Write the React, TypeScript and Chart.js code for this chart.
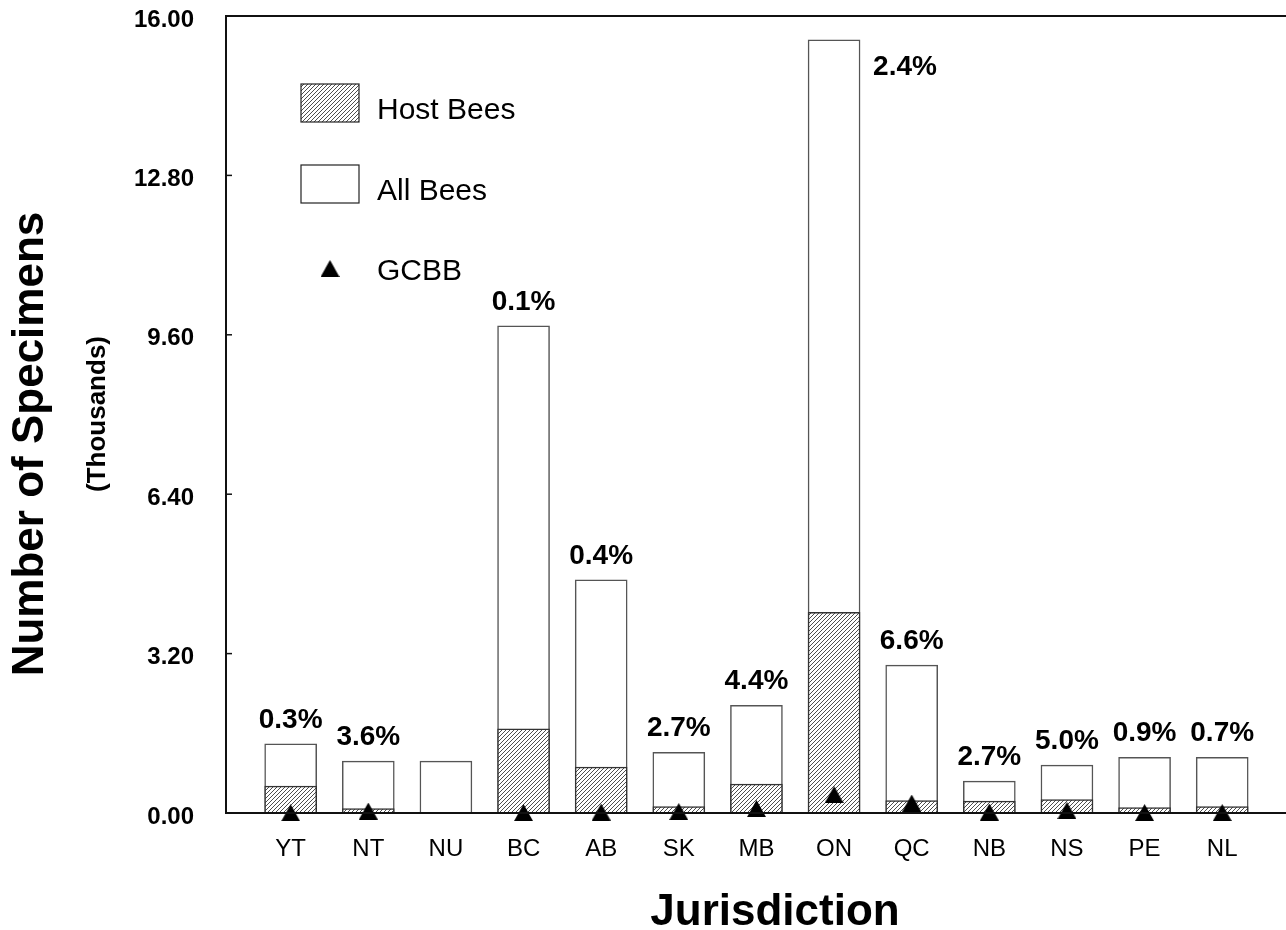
import React, { useEffect, useRef } from 'react';
import { Chart, registerables } from 'chart.js';

Chart.register(...registerables);

const categories = ['YT', 'NT', 'NU', 'BC', 'AB', 'SK', 'MB', 'ON', 'QC', 'NB', 'NS', 'PE', 'NL'];
const allBees = [1.39, 1.04, 1.04, 9.78, 4.68, 1.22, 2.16, 15.52, 2.97, 0.64, 0.96, 1.12, 1.12];
const hostBees = [0.54, 0.09, null, 1.69, 0.92, 0.13, 0.58, 4.03, 0.25, 0.24, 0.27, 0.11, 0.13];
const gcbb = [0.005, 0.04, null, 0.01, 0.02, 0.03, 0.09, 0.37, 0.2, 0.02, 0.05, 0.01, 0.01];
const pctLabels = ['0.3%', '3.6%', '', '0.1%', '0.4%', '2.7%', '4.4%', '2.4%', '6.6%', '2.7%', '5.0%', '0.9%', '0.7%'];
const yTicks = [0, 3.2, 6.4, 9.6, 12.8, 16];
const legendLabels = ['Host Bees', 'All Bees', 'GCBB'];
const yTitle = 'Number of Specimens';
const ySubTitle = '(Thousands)';
const xTitle = 'Jurisdiction';

const FONT = "'Liberation Sans', Arial, sans-serif";

function makeHatch(): CanvasPattern | string {
  const c = document.createElement('canvas');
  c.width = 4;
  c.height = 4;
  const g = c.getContext('2d');
  if (!g) return '#999';
  g.fillStyle = '#ffffff';
  g.fillRect(0, 0, 4, 4);
  g.strokeStyle = '#3a3a3a';
  g.lineWidth = 0.9;
  g.beginPath();
  g.moveTo(-1, 5);
  g.lineTo(5, -1);
  g.moveTo(-3, 3);
  g.lineTo(3, -3);
  g.moveTo(1, 7);
  g.lineTo(7, 1);
  g.stroke();
  const p = g.createPattern(c, 'repeat');
  return p || '#999';
}

function makeTriangle(): HTMLCanvasElement {
  const c = document.createElement('canvas');
  c.width = 19;
  c.height = 17;
  const g = c.getContext('2d');
  if (g) {
    g.fillStyle = '#000';
    g.beginPath();
    g.moveTo(9.5, 0);
    g.lineTo(19, 17);
    g.lineTo(0, 17);
    g.closePath();
    g.fill();
  }
  return c;
}

const zeroPad = (s: any) => {
  s.paddingTop = 0;
  s.paddingBottom = 0;
  s.paddingLeft = 0;
  s.paddingRight = 0;
};

export default function App() {
  const ref = useRef<HTMLCanvasElement | null>(null);

  useEffect(() => {
    const canvas = ref.current;
    if (!canvas) return;
    const hatch = makeHatch();
    const tri = makeTriangle();

    const decor = {
      id: 'decor',
      afterDraw(chart: any) {
        const ctx = chart.ctx;
        const area = chart.chartArea;
        const xs = chart.scales.x;
        const ys = chart.scales.y;
        ctx.save();
        // frame lines continuing to the right edge
        ctx.strokeStyle = '#111';
        ctx.lineWidth = 2;
        ctx.beginPath();
        ctx.moveTo(area.left, area.top);
        ctx.lineTo(chart.width, area.top);
        ctx.moveTo(area.left, area.bottom);
        ctx.lineTo(chart.width, area.bottom);
        ctx.stroke();
        // inward y ticks
        ctx.lineWidth = 1.5;
        yTicks.forEach((v) => {
          const y = ys.getPixelForValue(v);
          ctx.beginPath();
          ctx.moveTo(area.left, y);
          ctx.lineTo(area.left + 6, y);
          ctx.stroke();
        });
        // percentage labels
        ctx.fillStyle = '#000';
        ctx.font = `bold 28px ${FONT}`;
        ctx.textBaseline = 'alphabetic';
        pctLabels.forEach((lab, i) => {
          if (!lab) return;
          const x = xs.getPixelForValue(i);
          const y = ys.getPixelForValue(allBees[i]);
          if (y - 45 < area.top) {
            ctx.textAlign = 'left';
            ctx.fillText(lab, x + 39, y + 35);
          } else {
            ctx.textAlign = 'center';
            ctx.fillText(lab, x, y - 16);
          }
        });
        // legend
        const lx = 301;
        ctx.lineWidth = 1.2;
        ctx.strokeStyle = '#222';
        ctx.fillStyle = hatch as any;
        ctx.fillRect(lx, 84, 58, 38);
        ctx.strokeRect(lx, 84, 58, 38);
        ctx.fillStyle = '#fff';
        ctx.fillRect(lx, 165, 58, 38);
        ctx.strokeRect(lx, 165, 58, 38);
        ctx.drawImage(tri, lx + 29 - 9.5, 260);
        ctx.fillStyle = '#000';
        ctx.font = `30px ${FONT}`;
        ctx.textAlign = 'left';
        ctx.textBaseline = 'middle';
        ctx.fillText(legendLabels[0], 377, 111);
        ctx.fillText(legendLabels[1], 377, 192);
        ctx.fillText(legendLabels[2], 377, 272);
        // axis titles
        ctx.save();
        ctx.translate(31, 444);
        ctx.rotate(-Math.PI / 2);
        ctx.textAlign = 'center';
        ctx.textBaseline = 'middle';
        ctx.font = `bold 44px ${FONT}`;
        ctx.fillText(yTitle, 0, 0);
        ctx.restore();
        ctx.save();
        ctx.translate(98, 414);
        ctx.rotate(-Math.PI / 2);
        ctx.textAlign = 'center';
        ctx.textBaseline = 'middle';
        ctx.font = `bold 26px ${FONT}`;
        ctx.fillText(ySubTitle, 0, 0);
        ctx.restore();
        ctx.textAlign = 'center';
        ctx.textBaseline = 'alphabetic';
        ctx.font = `bold 44px ${FONT}`;
        ctx.fillText(xTitle, 775, 925);
        ctx.restore();
      },
    };

    const chart = new Chart(canvas, {
      type: 'bar',
      data: {
        datasets: [
          {
            type: 'line',
            label: legendLabels[2],
            data: gcbb.map((v, i) => ({ x: i, y: v })),
            showLine: false,
            pointStyle: tri as any,
            pointRadius: 10,
            clip: false,
            order: 0,
          } as any,
          {
            type: 'bar',
            label: legendLabels[0],
            data: hostBees.map((v, i) => ({ x: i, y: v })),
            backgroundColor: hatch as any,
            borderColor: '#333',
            borderWidth: 1.5,
            barThickness: 52,
            grouped: false,
            order: 1,
          },
          {
            type: 'bar',
            label: legendLabels[1],
            data: allBees.map((v, i) => ({ x: i, y: v })),
            backgroundColor: '#ffffff',
            borderColor: '#555',
            borderWidth: 1.5,
            barThickness: 52,
            grouped: false,
            order: 2,
          },
        ],
      },
      options: {
        animation: false,
        responsive: false,
        maintainAspectRatio: false,
        events: [],
        layout: { padding: { top: 16, left: 0, right: 0, bottom: 0 } },
        plugins: { legend: { display: false }, tooltip: { enabled: false } },
        scales: {
          x: {
            type: 'linear',
            offset: false,
            min: -0.833,
            max: 12.68,
            grid: { display: false, drawTicks: false, offset: false },
            border: { display: true, color: '#111', width: 2 },
            afterBuildTicks: (s: any) => {
              s.ticks = categories.map((_, i) => ({ value: i }));
            },
            afterFit: (s: any) => {
              s.height = 117;
              zeroPad(s);
            },
            ticks: {
              autoSkip: false,
              maxRotation: 0,
              padding: 22,
              color: '#000',
              font: { family: FONT, size: 24 },
              callback: (v: any) => categories[Math.round(Number(v))] ?? '',
            },
          },
          y: {
            type: 'linear',
            min: 0,
            max: 16,
            grid: { display: false, drawTicks: false },
            border: { display: true, color: '#111', width: 2 },
            afterBuildTicks: (s: any) => {
              s.ticks = yTicks.map((v) => ({ value: v }));
            },
            afterFit: (s: any) => {
              s.width = 226;
              zeroPad(s);
            },
            ticks: {
              padding: 32,
              labelOffset: 4,
              color: '#000',
              font: { family: FONT, size: 24, weight: 'bold' },
              callback: (v: any) => Number(v).toFixed(2),
            },
          },
        },
      },
      plugins: [decor],
    } as any);

    return () => chart.destroy();
  }, []);

  return (
    <div style={{ position: 'absolute', left: 0, top: 0, width: 1286, height: 930, background: '#fff' }}>
      <canvas ref={ref} width={1286} height={930} style={{ display: 'block' }} />
    </div>
  );
}
